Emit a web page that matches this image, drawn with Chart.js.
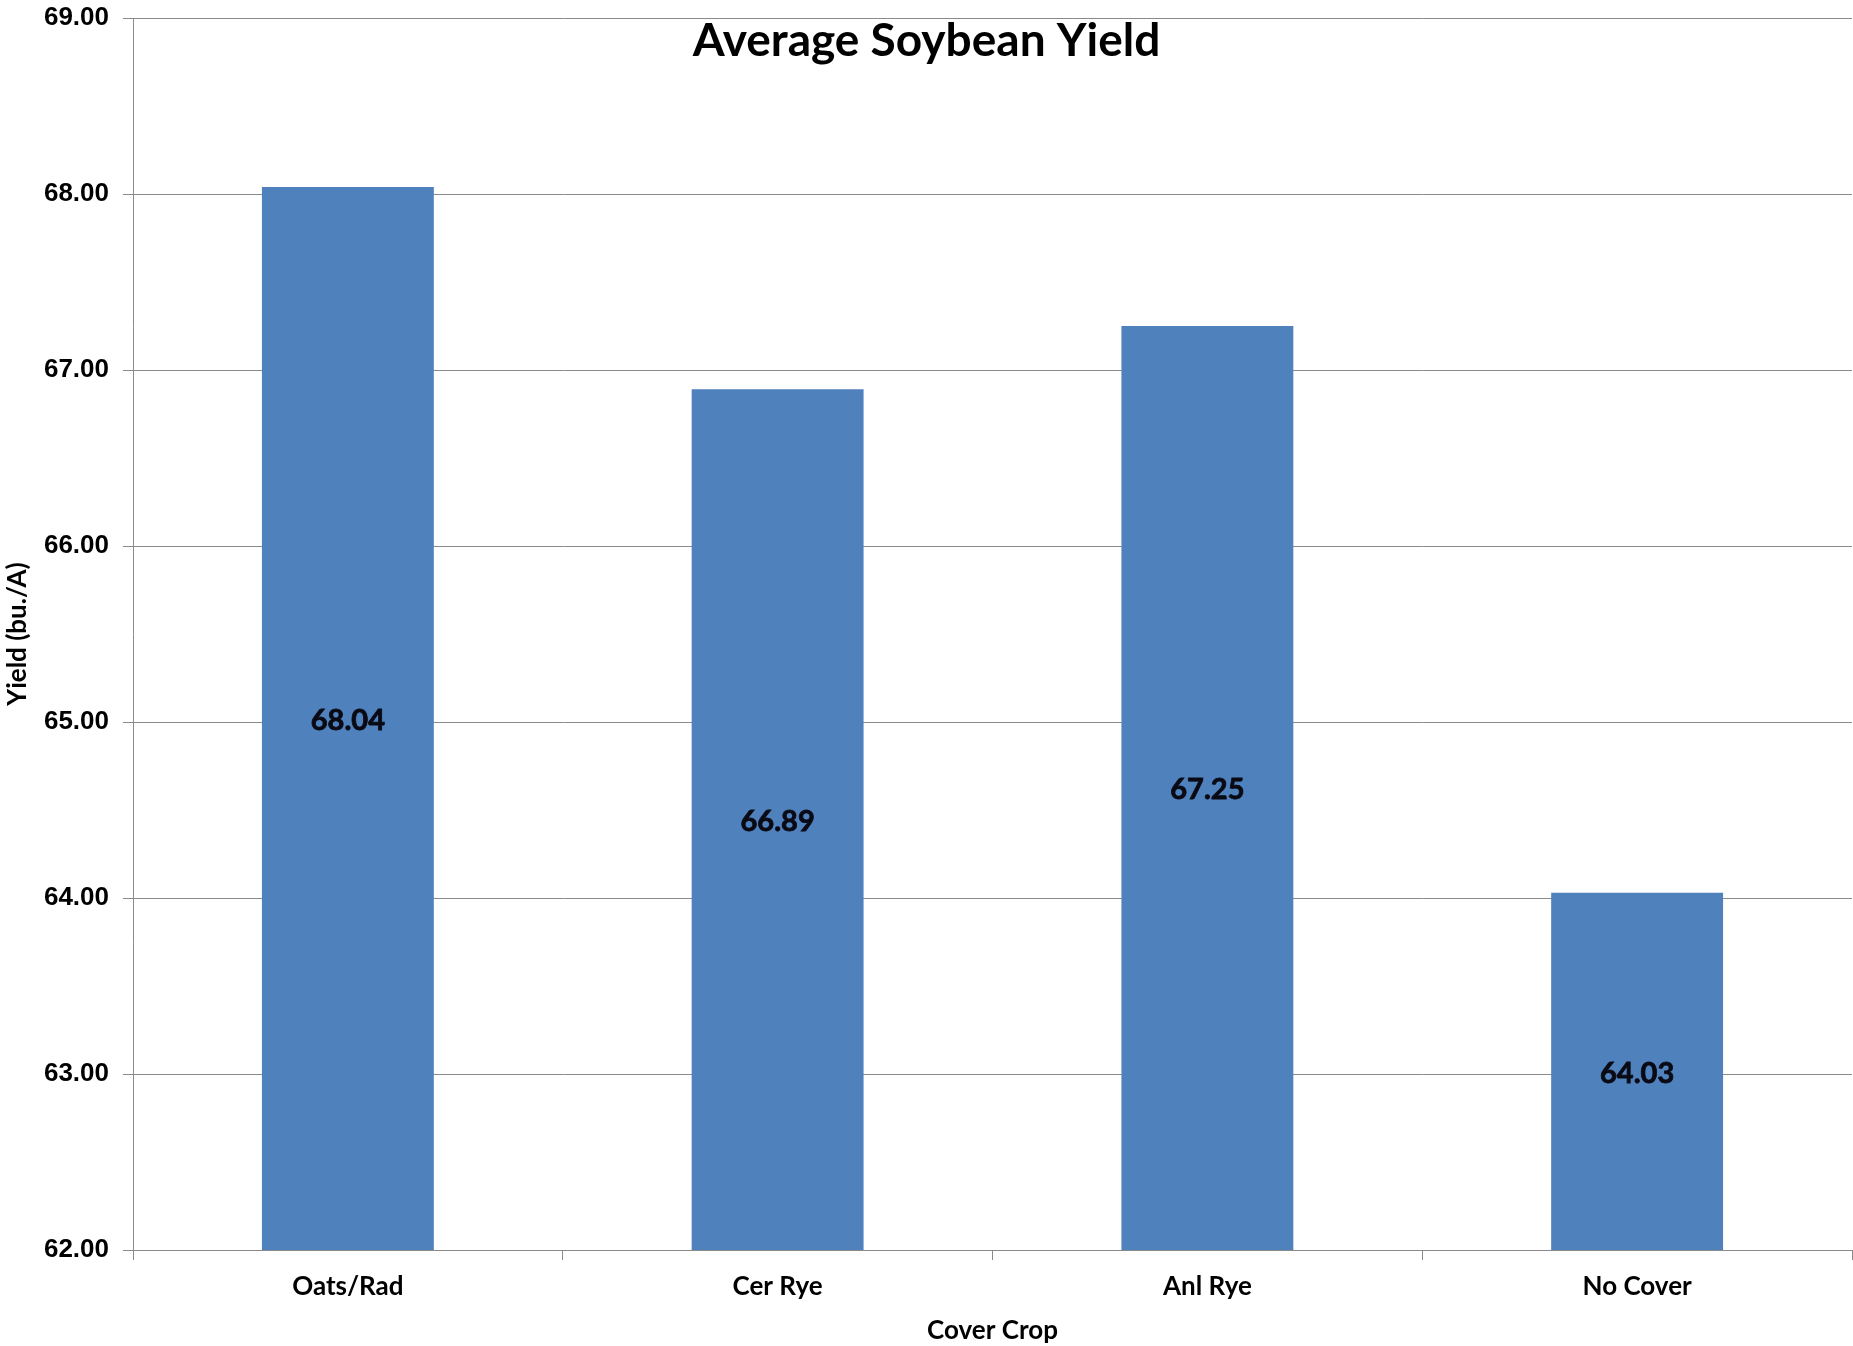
<!DOCTYPE html>
<html>
<head>
<meta charset="utf-8">
<script src="https://cdn.jsdelivr.net/npm/chart.js@4.4.1/dist/chart.umd.min.js"></script>
<style>
  html, body { margin: 0; padding: 0; background: #fff; }
  #wrap { width: 1853px; height: 1346px; }
</style>
</head>
<body>
<div id="wrap"><canvas id="soja"></canvas></div>
<script>
// dados do grafico
var culturas = ['Oats/Rad', 'Cer Rye', 'Anl Rye', 'No Cover'];
var produtividade = [68.04, 66.89, 67.25, 64.03];
var eixoMin = 62;
var eixoMax = 69;

var tituloGrafico = 'Average Soybean Yield';
var tituloX = 'Cover Crop';
var tituloY = 'Yield (bu./A)';

// titulo desenhado por cima da area do grafico (como no excel)
const tituloPlugin = {
    id: 'tituloPlugin',
    afterDraw(chart) {
        const c = chart.ctx;
        c.save();
        c.font = 'bold 46px Lato';
        c.fillStyle = '#000';
        c.textAlign = 'center';
        c.textBaseline = 'middle';
        c.fillText(tituloGrafico, chart.width / 2, 41);
        c.restore();
    }
};

// valores no meio de cada barra
const rotulosPlugin = {
    id: 'rotulosPlugin',
    afterDraw(chart) {
        const c = chart.ctx;
        const escalaY = chart.scales.y;
        const meta = chart.getDatasetMeta(0);
        c.save();
        c.font = 'bold 29px Lato';
        c.fillStyle = '#0a0a14';
        c.strokeStyle = '#0a0a14';
        c.lineWidth = 0.8;
        c.textAlign = 'center';
        c.textBaseline = 'middle';
        for (let i = 0; i < produtividade.length; i++) {
            let topo = escalaY.getPixelForValue(produtividade[i]);
            let meio = (topo + escalaY.bottom) / 2 + 2;
            c.fillText(produtividade[i].toFixed(2), meta.data[i].x, meio);
            c.strokeText(produtividade[i].toFixed(2), meta.data[i].x, meio);
        }
        c.restore();
    }
};

const ctx = document.getElementById('soja');

new Chart(ctx, {
    type: 'bar',
    data: {
        labels: culturas,
        datasets: [{
            data: produtividade,
            backgroundColor: '#4F81BD',
            borderWidth: 0,
            barPercentage: 0.4,
            categoryPercentage: 1.0
        }]
    },
    plugins: [tituloPlugin, rotulosPlugin],
    options: {
        responsive: true,
        maintainAspectRatio: false,
        animation: false,
        layout: { padding: { top: 18, right: 1, bottom: 0, left: 0 } },
        plugins: {
            legend: { display: false },
            tooltip: { enabled: false }
        },
        scales: {
            x: {
                offset: true,
                afterFit: function (escala) { escala.height = 96; },
                grid: {
                    offset: true,
                    drawOnChartArea: false,
                    drawTicks: true,
                    tickLength: 10,
                    color: '#8a8a8a'
                },
                border: { color: '#8a8a8a', width: 1 },
                ticks: {
                    color: '#000',
                    padding: 11,
                    font: { family: 'Lato', weight: 'bold', size: 26 }
                },
                title: {
                    display: true,
                    text: tituloX,
                    color: '#000',
                    font: { family: 'Lato', weight: 'bold', size: 26 },
                    padding: { top: 4, bottom: 0 }
                }
            },
            y: {
                min: eixoMin,
                max: eixoMax,
                afterFit: function (escala) { escala.width = 133; },
                grid: {
                    color: '#8a8a8a',
                    tickLength: 10
                },
                border: { color: '#8a8a8a', width: 1 },
                ticks: {
                    stepSize: 1,
                    color: '#000',
                    padding: 14,
                    font: { family: 'Liberation Sans', weight: 'bold', size: 26, lineHeight: 0.3 },
                    callback: function (v) { return v.toFixed(2); }
                },
                title: {
                    display: true,
                    text: tituloY,
                    color: '#000',
                    font: { family: 'Lato', weight: 'bold', size: 26 },
                    padding: { top: 2, bottom: 4 }
                }
            }
        }
    }
});
</script>
</body>
</html>
